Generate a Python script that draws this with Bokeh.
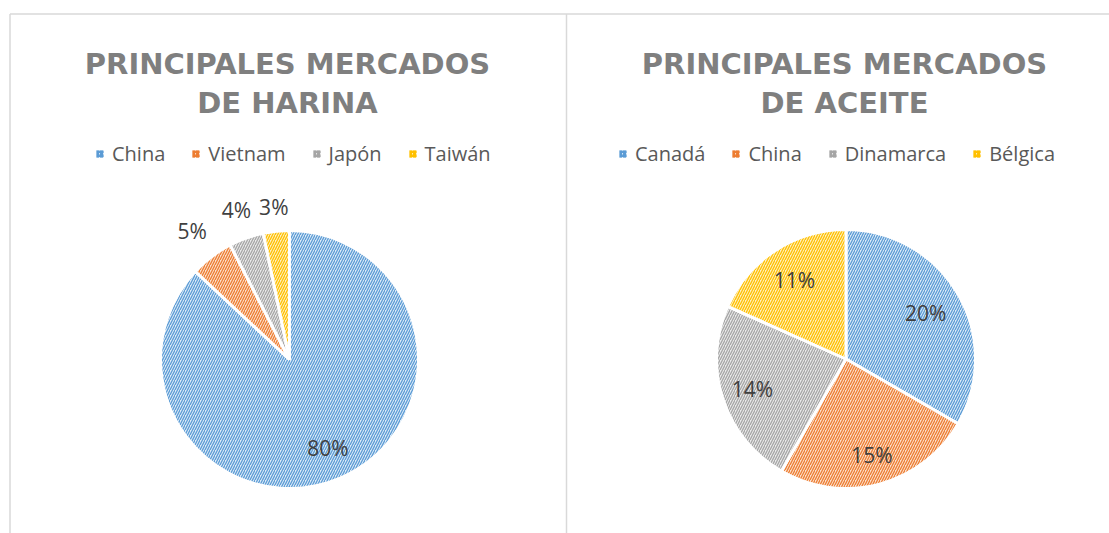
import math
from bokeh.plotting import figure
from bokeh.models import Range1d, ColumnDataSource, Legend, LegendItem
from bokeh.embed import file_html
from bokeh.resources import INLINE
from bokeh.core.properties import value

# ---- data ----
harina_cats = ["China", "Vietnam", "Japón", "Taiwán"]
harina_vals = [80, 5, 4, 3]
aceite_cats = ["Canadá", "China", "Dinamarca", "Bélgica"]
aceite_vals = [20, 15, 14, 11]
harina_title = ["PRINCIPALES MERCADOS", "DE HARINA"]
aceite_title = ["PRINCIPALES MERCADOS", "DE ACEITE"]

# ---- style ----
HATCH = ["#5B9BD5", "#ED7D31", "#A5A5A5", "#FFC000"]
FILL = ["#DDEBF7", "#FBE0CE", "#EAEAEA", "#FFF0C2"]
FONT = "Open Sans"
TFONT = "DejaVu Sans"
W, H = 1109, 533


def sy(y):
    """screen y (from top of window) -> data y"""
    return H - y


p = figure(width=W, height=H, output_backend="svg", toolbar_location=None,
           x_range=Range1d(0, W), y_range=Range1d(0, H),
           min_border=0, outline_line_color=None)
p.axis.visible = False
p.grid.visible = False
p.background_fill_color = "white"

# panel borders
p.segment(x0=[9.5, 9.5, 566], y0=[sy(13.5), sy(13.5), sy(13.5)],
          x1=[9.5, 1109, 566], y1=[sy(533), sy(13.5), sy(533)],
          line_color="#D9D9D9", line_width=1.5)


def pie(cats, vals, titles, cx, cy, r, label_f, title_x, legend_x):
    total = float(sum(vals))
    cum = 0.0
    s_list, e_list, lx, ly, labels = [], [], [], [], []
    for i, v in enumerate(vals):
        a_end = math.pi / 2 - 2 * math.pi * cum / total
        cum += v
        a_start = math.pi / 2 - 2 * math.pi * cum / total
        s_list.append(a_start)
        e_list.append(a_end)
        mid = (a_start + a_end) / 2
        lx.append(cx + label_f[i] * r * math.cos(mid))
        ly.append(sy(cy) + label_f[i] * r * math.sin(mid))
        labels.append(f"{v}%")
    src = ColumnDataSource(dict(x=[cx] * len(vals), y=[sy(cy)] * len(vals),
                                s=s_list, e=e_list, fill=FILL[:len(vals)],
                                hatch=HATCH[:len(vals)], cat=cats))
    p.wedge(x="x", y="y", radius=r, start_angle="s", end_angle="e", source=src,
            fill_color="fill", hatch_pattern="/", hatch_color="hatch",
            hatch_scale=5, hatch_weight=1.3, line_color="white", line_width=3)
    p.text(x=lx, y=ly, text=labels, text_align="center", text_baseline="middle",
           text_font=value(FONT), text_font_size="21px", text_color="#404040")
    p.text(x=[title_x, title_x], y=[sy(63.5), sy(102.5)], text=titles,
           text_align="center", text_baseline="alphabetic",
           text_font=value(TFONT), text_font_style="bold",
           text_font_size="29px", text_color="#7F7F7F")
    # legend: dummy area glyph so legend squares have no white outline
    nan = float("nan")
    dsrc = ColumnDataSource(dict(l=[nan] * len(vals), r=[nan] * len(vals),
                                 t=[nan] * len(vals), b=[nan] * len(vals),
                                 fill=FILL[:len(vals)], hatch=HATCH[:len(vals)]))
    dr = p.quad(left="l", right="r", top="t", bottom="b", source=dsrc,
                fill_color="fill", hatch_pattern="/", hatch_color="hatch",
                hatch_scale=4, hatch_weight=1.8, line_color=None)
    items = [LegendItem(label=c, renderers=[dr], index=i) for i, c in enumerate(cats)]
    leg = Legend(items=items, orientation="horizontal", location=(legend_x, H - 167),
                 border_line_color=None, background_fill_alpha=0,
                 label_text_font=FONT, label_text_font_size="20px",
                 label_text_color="#595959", glyph_width=9, glyph_height=9,
                 label_standoff=8, spacing=26, padding=0, margin=0, label_height=20)
    p.add_layout(leg)


pie(harina_cats, harina_vals, harina_title, 289, 359, 129,
    [0.75, 1.25, 1.23, 1.19], 287, 95)
pie(aceite_cats, aceite_vals, aceite_title, 845.5, 358.5, 129.5,
    [0.71, 0.77, 0.76, 0.73], 844, 618)

open("out.html", "w").write(file_html(p, INLINE))
